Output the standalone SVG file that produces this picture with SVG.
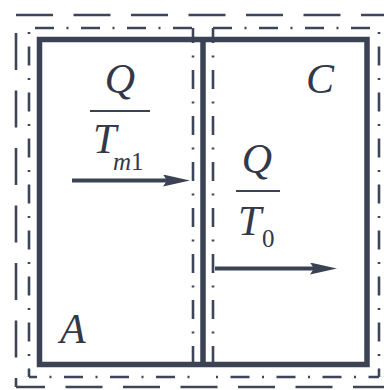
<svg xmlns="http://www.w3.org/2000/svg" width="384" height="390" viewBox="0 0 384 390">
<style>
.bg{fill:#ffffff}
.dash{fill:none;stroke:#3d4558;stroke-width:2.6;stroke-dasharray:37 20.5}
.dd{fill:none;stroke:#3d4558;stroke-width:2.6;stroke-dasharray:19 12.5 2 12.5}
.wall{fill:none;stroke:#3b4254;stroke-width:5.5}
.flow{fill:none;stroke:#3b4254;stroke-width:4}
.frac{stroke:#3b4254;stroke-width:2}
.lbl{font-family:"Liberation Serif","Times New Roman",serif;font-style:italic;font-size:42px;fill:#323847}
.sub{font-size:25px}
.up{font-style:normal}
</style>
<defs>
<marker id="ah" markerUnits="userSpaceOnUse" markerWidth="30" markerHeight="14" refX="7" refY="6" orient="auto">
<path d="M0,0 L27,6 L0,12 L4,6 Z" fill="#3b4254"/>
</marker>
</defs>
<rect class="bg" x="0" y="0" width="384" height="390"/>
<g id="boundary-outer">
<path class="dash" d="M16,15 H392"/>
<path class="dash" d="M16,387 V15" style="stroke-dashoffset:28"/>
<path class="dash" d="M16,387 H392" style="stroke-dashoffset:8"/>
<path class="dash" d="M392,15 V387"/>
</g>
<g id="boundary-A">
<path class="dd" d="M29,28 H193" style="stroke-dashoffset:40"/>
<path class="dd" d="M29,28 V377" style="stroke-dashoffset:27.5"/>
<path class="dd" d="M29,377 H193" style="stroke-dashoffset:11"/>
<path class="dd" d="M193,28 V377" style="stroke-dashoffset:4"/>
</g>
<g id="boundary-C">
<path class="dd" d="M213,28 H379"/>
<path class="dd" d="M213,28 V377" style="stroke-dashoffset:4"/>
<path class="dd" d="M213,377 H379" style="stroke-dashoffset:28.5"/>
<path class="dd" d="M379,28 V377" style="stroke-dashoffset:27.5"/>
</g>
<g id="vessel">
<rect class="wall" x="39.5" y="39.5" width="327.5" height="325"/>
<line class="wall" x1="203" y1="39.5" x2="203" y2="364.5"/>
</g>
<g id="label-A"><text class="lbl" x="60" y="343">A</text></g>
<g id="label-C"><text class="lbl" x="306" y="93">C</text></g>
<g id="label-Q-Tm1">
<text class="lbl" x="120" y="93" text-anchor="middle">Q</text>
<line class="frac" x1="90" y1="111" x2="150" y2="111"/>
<text class="lbl" x="93" y="153">T</text>
<text class="lbl sub" x="113" y="170">m<tspan class="up">1</tspan></text>
</g>
<g id="label-Q-T0">
<text class="lbl" x="257" y="173" text-anchor="middle">Q</text>
<line class="frac" x1="236" y1="191" x2="280" y2="191"/>
<text class="lbl" x="238" y="235">T</text>
<text class="lbl sub up" x="262" y="247">0</text>
</g>
<g id="connectors">
<path class="flow" d="M72,180.5 H170" marker-end="url(#ah)"/>
<path class="flow" d="M215,268.5 H317" marker-end="url(#ah)"/>
</g>
</svg>
